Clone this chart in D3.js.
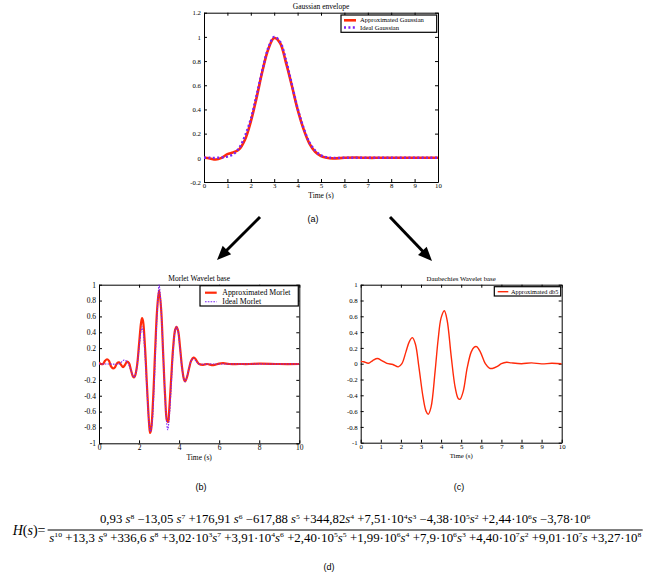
<!DOCTYPE html>
<html>
<head>
<meta charset="utf-8">
<script src="https://cdn.jsdelivr.net/npm/d3@7"></script>
<style>
  body { margin: 0; background: #fff; }
  svg text { font-family: "Liberation Serif", "Times New Roman", serif; }
</style>
</head>
<body>
<div id="fig"></div>
<script>
// ---- data ----
const gaussT = [0, 0.25, 0.5, 0.75, 1, 1.25, 1.5, 1.75, 2, 2.25, 2.5, 2.75, 3, 3.25, 3.5, 3.75,
  4, 4.25, 4.5, 4.75, 5, 5.25, 5.5, 6, 6.5, 7, 7.5, 8, 8.5, 9, 9.5, 10];
const gaussApprox = [0, -0.005, -0.014, 0, 0.03, 0.045, 0.07, 0.15, 0.3, 0.5, 0.72, 0.9, 0.99, 0.95, 0.79, 0.6,
  0.4, 0.24, 0.12, 0.05, 0.015, 0, -0.005, 0, 0.002, 0, 0, 0, 0, 0, 0, 0];
const gaussIdeal = [0, 0, 0, 0.003, 0.01, 0.03, 0.08, 0.18, 0.32, 0.52, 0.73, 0.91, 1.0, 0.96, 0.81, 0.61,
  0.41, 0.25, 0.13, 0.06, 0.02, 0.005, 0, 0, 0, 0, 0, 0, 0, 0, 0, 0];

const morletT = [0, 0.1, 0.2, 0.3, 0.4, 0.5, 0.6, 0.7, 0.8, 0.9,
  1.0, 1.1, 1.2, 1.3, 1.4, 1.5, 1.6, 1.7, 1.75, 1.8, 1.9,
  2.0, 2.1, 2.15, 2.2, 2.3, 2.4, 2.5, 2.55, 2.6, 2.7, 2.8, 2.9,
  3.0, 3.1, 3.2, 3.3, 3.4, 3.45, 3.5, 3.6, 3.7, 3.8, 3.87, 3.95,
  4.05, 4.15, 4.25, 4.3, 4.4, 4.5, 4.6, 4.72, 4.8, 4.9,
  5.0, 5.2, 5.4, 5.7, 6.0, 6.2, 6.5, 7, 7.5, 8, 9, 10];
const morletApprox = [0.02, 0, 0, 0.04, 0.06, 0.04, -0.03, -0.055, -0.04, 0.01,
  0.02, -0.01, -0.04, -0.01, 0.03, 0.01, -0.08, -0.16, -0.17, -0.15, -0.02,
  0.25, 0.52, 0.58, 0.54, 0.2, -0.3, -0.75, -0.87, -0.83, -0.45, 0.15, 0.68,
  0.93, 0.7, 0.15, -0.4, -0.72, -0.73, -0.6, -0.2, 0.2, 0.43, 0.47, 0.42,
  0.2, -0.05, -0.2, -0.22, -0.16, -0.05, 0.04, 0.08, 0.07, 0.03,
  0, -0.01, 0, -0.015, 0.005, 0.01, 0, 0, 0, 0.005, 0, 0];

const morletIdealT = [0, 0.5, 1.0, 1.1, 1.25, 1.4, 1.55, 1.7, 1.75, 1.85,
  2.0, 2.1, 2.15, 2.2, 2.3, 2.4, 2.5, 2.57, 2.65, 2.75,
  2.85, 2.95, 3.0, 3.05, 3.15, 3.25, 3.35, 3.43, 3.5, 3.6,
  3.7, 3.8, 3.87, 3.95, 4.05, 4.15, 4.25, 4.3, 4.4, 4.5,
  4.6, 4.7, 4.8, 4.9, 5.0, 5.5, 6, 7, 8, 9, 10];
const morletIdeal = [0, 0, 0, 0.02, 0.05, 0.03, -0.05, -0.15, -0.17, -0.1,
  0.2, 0.42, 0.47, 0.42, 0.1, -0.35, -0.75, -0.85, -0.75, -0.3,
  0.35, 0.85, 1.0, 0.9, 0.45, -0.15, -0.65, -0.83, -0.7, -0.3,
  0.15, 0.42, 0.47, 0.4, 0.18, -0.07, -0.2, -0.22, -0.15, -0.05,
  0.04, 0.07, 0.05, 0.02, 0, 0, 0, 0, 0, 0, 0];

const db5T = [0, 0.15, 0.38, 0.6, 0.83, 1.05, 1.3, 1.6, 1.87, 2.05,
  2.25, 2.42, 2.57, 2.72, 2.9, 3.1, 3.25, 3.36, 3.5, 3.7,
  3.85, 4.0, 4.16, 4.3, 4.5, 4.7, 4.85, 4.94, 5.1, 5.3,
  5.5, 5.65, 5.77, 5.95, 6.2, 6.4, 6.55, 6.8, 7.0, 7.26,
  7.5, 8.0, 8.5, 9.0, 9.5, 10];
const db5Approx = [0.03, 0.025, 0.005, 0.04, 0.065, 0.04, 0.005, -0.01, -0.04, 0,
  0.15, 0.28, 0.33, 0.25, -0.05, -0.42, -0.6, -0.64, -0.55, -0.1,
  0.3, 0.58, 0.67, 0.55, 0.1, -0.3, -0.44, -0.45, -0.35, -0.05,
  0.15, 0.21, 0.215, 0.15, 0, -0.055, -0.06, -0.035, 0, 0.018,
  0.01, 0, 0.01, -0.002, 0.005, 0];

const ticks01 = [0, 1, 2, 3, 4, 5, 6, 7, 8, 9, 10];
const ticks02 = [0, 2, 4, 6, 8, 10];
const gaussYTicks = [-0.2, 0, 0.2, 0.4, 0.6, 0.8, 1, 1.2];
const waveYTicks = [-1, -0.8, -0.6, -0.4, -0.2, 0, 0.2, 0.4, 0.6, 0.8, 1];

const numerator = "0,93 s^8 −13,05 s^7 +176,91 s^6 −617,88 s^5 +344,82s^4 +7,51·10^4s^3 −4,38·10^5s^2 +2,44·10^6s −3,78·10^6";
const denominator = "s^10 +13,3 s^9 +336,6 s^8 +3,02·10^3s^7 +3,91·10^4s^6 +2,40·10^5s^5 +1,99·10^6s^4 +7,9·10^6s^3 +4,40·10^7s^2 +9,01·10^7s +3,27·10^8";

const RED = "#ff2a0a";
const PURPLE = "#7b22f5";

const svg = d3.select("#fig").append("svg")
    .attr("width", 657)
    .attr("height", 586);

const fmt = d => String(+d.toFixed(1));
let clipId = 0;

function panel(o) {
    const x = d3.scaleLinear().domain([0, 10]).range([o.left, o.right]);
    const y = d3.scaleLinear().domain(o.yDomain).range([o.bottom, o.top]);
    const g = svg.append("g");

    const styleAxis = sel => {
        sel.attr("font-family", "Liberation Serif, serif").attr("font-size", o.tickFs);
        sel.select(".domain").attr("stroke", "#000").attr("stroke-width", 1);
        sel.selectAll(".tick line").attr("stroke", "#000");
    };

    g.append("g")
        .attr("transform", `translate(0, ${o.bottom})`)
        .call(d3.axisBottom(x).tickValues(o.xTicks).tickSizeInner(-3).tickSizeOuter(0).tickPadding(1.5).tickFormat(fmt))
        .call(styleAxis);
    g.append("g")
        .attr("transform", `translate(0, ${o.top})`)
        .call(d3.axisTop(x).tickValues(o.xTicks).tickSizeInner(-3).tickSizeOuter(0).tickFormat(""))
        .call(styleAxis);
    g.append("g")
        .attr("transform", `translate(${o.left}, 0)`)
        .call(d3.axisLeft(y).tickValues(o.yTicks).tickSizeInner(-3).tickSizeOuter(0).tickPadding(3).tickFormat(fmt))
        .call(styleAxis);
    g.append("g")
        .attr("transform", `translate(${o.right}, 0)`)
        .call(d3.axisRight(y).tickValues(o.yTicks).tickSizeInner(-3).tickSizeOuter(0).tickFormat(""))
        .call(styleAxis);

    const id = "clip" + (clipId++);
    svg.append("clipPath").attr("id", id)
        .append("rect")
        .attr("x", o.left).attr("y", o.top - 2)
        .attr("width", o.right - o.left).attr("height", o.bottom - o.top + 2);

    const line = d3.line()
        .x(d => x(d[0]))
        .y(d => y(d[1]))
        .curve(d3.curveCatmullRom.alpha(0.5));

    o.series.forEach(s => {
        g.append("path")
            .datum(d3.zip(s.t, s.v))
            .attr("clip-path", `url(#${id})`)
            .attr("fill", "none")
            .attr("stroke", s.color)
            .attr("stroke-width", s.width)
            .attr("stroke-dasharray", s.dash || null)
            .attr("d", line);
    });

    // title and x label
    g.append("text")
        .attr("x", (o.left + o.right) / 2).attr("y", o.top - 4)
        .attr("text-anchor", "middle").attr("font-size", o.titleFs)
        .text(o.title);
    g.append("text")
        .attr("x", (o.left + o.right) / 2 + (o.xlabDx || 0)).attr("y", o.bottom + o.xlabDy)
        .attr("text-anchor", "middle").attr("font-size", o.titleFs)
        .text("Time (s)");

    // legend
    const L = o.legend;
    g.append("rect")
        .attr("x", L.x).attr("y", L.y).attr("width", L.w).attr("height", L.h)
        .attr("fill", "#fff").attr("stroke", "#000").attr("stroke-width", 1.2);
    o.series.forEach((s, i) => {
        const cy = L.y + L.rowY[i];
        g.append("line")
            .attr("x1", L.x + L.l0).attr("x2", L.x + L.l1)
            .attr("y1", cy).attr("y2", cy)
            .attr("stroke", s.color).attr("stroke-width", s.width)
            .attr("stroke-dasharray", s.dash || null);
        g.append("text")
            .attr("x", L.x + L.tx).attr("y", cy + L.fs * 0.33)
            .attr("font-size", L.fs)
            .text(s.name);
    });
}

panel({
    left: 204, right: 438, top: 12.7, bottom: 182,
    yDomain: [-0.2, 1.2], yTicks: gaussYTicks, xTicks: ticks01,
    tickFs: 6.8, titleFs: 7.5, xlabDy: 15.5,
    title: "Gaussian envelope",
    series: [
        {name: "Approximated Gaussian", t: gaussT, v: gaussApprox, color: RED, width: 2.6},
        {name: "Ideal Gaussian", t: gaussT, v: gaussIdeal, color: PURPLE, width: 2.4, dash: "2,2.4"}
    ],
    legend: {x: 341, y: 15, w: 95.7, h: 17.3, rowY: [5.3, 12.5], l0: 3, l1: 15, tx: 19, fs: 6.6}
});

panel({
    left: 99, right: 299.3, top: 284.7, bottom: 443.3,
    yDomain: [-1, 1], yTicks: waveYTicks, xTicks: ticks02,
    tickFs: 7.5, titleFs: 7.5, xlabDy: 17,
    title: "Morlet Wavelet base",
    series: [
        {name: "Approximated Morlet", t: morletT, v: morletApprox, color: RED, width: 2.2},
        {name: "Ideal Morlet", t: morletIdealT, v: morletIdeal, color: PURPLE, width: 1.1, dash: "1.6,1.2"}
    ],
    legend: {x: 200, y: 285.7, w: 98.3, h: 20.3, rowY: [7, 16], l0: 5, l1: 16.7, tx: 22.3, fs: 7.8}
});

panel({
    left: 360.7, right: 561.7, top: 284.7, bottom: 442.7,
    yDomain: [-1, 1], yTicks: waveYTicks, xTicks: ticks01,
    tickFs: 6.8, titleFs: 6.8, xlabDy: 15.5,
    title: "Daubechies Wavelet base",
    series: [
        {name: "Approximated db5", t: db5T, v: db5Approx, color: RED, width: 1.4}
    ],
    legend: {x: 494.3, y: 286.7, w: 66.4, h: 9.3, rowY: [5], l0: 3.4, l1: 14, tx: 16.7, fs: 6.3}
});

// arrows between panels
function arrow(x1, y1, x2, y2) {
    const a = Math.atan2(y2 - y1, x2 - x1), len = 14, half = 6;
    const bx = x2 - len * Math.cos(a), by = y2 - len * Math.sin(a);
    svg.append("line")
        .attr("x1", x1).attr("y1", y1).attr("x2", bx + 2 * Math.cos(a)).attr("y2", by + 2 * Math.sin(a))
        .attr("stroke", "#000").attr("stroke-width", 3);
    svg.append("path")
        .attr("d", `M${x2},${y2}L${bx - half * Math.sin(a)},${by + half * Math.cos(a)}L${bx + half * Math.sin(a)},${by - half * Math.cos(a)}Z`)
        .attr("fill", "#000");
}
arrow(260, 217, 217, 260);
arrow(390, 217, 432, 261);

// sub-figure captions
[["(a)", 313, 221.5], ["(b)", 201, 490], ["(c)", 459, 490], ["(d)", 329, 570]].forEach(c => {
    svg.append("text")
        .attr("x", c[1]).attr("y", c[2])
        .attr("text-anchor", "middle")
        .attr("font-size", 9)
        .style("font-family", "Liberation Sans, Arial, sans-serif")
        .text(c[0]);
});

// transfer function
function formula(str, x0, x1, yb, fs) {
    const t = svg.append("text").attr("y", yb).attr("font-size", fs);
    const parts = str.match(/\^\d+|s|[^s^]+/g);
    let up = false;
    parts.forEach(p => {
        if (p[0] === "^") {
            t.append("tspan").attr("dy", -fs * 0.38).attr("font-size", fs * 0.6).text(p.slice(1));
            up = true;
        } else {
            const sp = t.append("tspan").text(p);
            if (up) { sp.attr("dy", fs * 0.38); up = false; }
            if (p === "s") sp.attr("font-style", "italic");
        }
    });
    const w = t.node().getComputedTextLength();
    t.attr("transform", `translate(${x0}, 0) scale(${(x1 - x0) / w}, 1) `);
}
formula(numerator, 100, 591, 523, 11.5);
formula(denominator, 49.3, 641.7, 541.7, 11.5);

svg.append("line")
    .attr("x1", 47.6).attr("x2", 642.7).attr("y1", 530).attr("y2", 530)
    .attr("stroke", "#000").attr("stroke-width", 1);

const hs = svg.append("text").attr("x", 12.7).attr("y", 535).attr("font-size", 14);
hs.append("tspan").attr("font-style", "italic").text("H");
hs.append("tspan").text("(");
hs.append("tspan").attr("font-style", "italic").text("s");
hs.append("tspan").text(")=");
</script>
</body>
</html>
